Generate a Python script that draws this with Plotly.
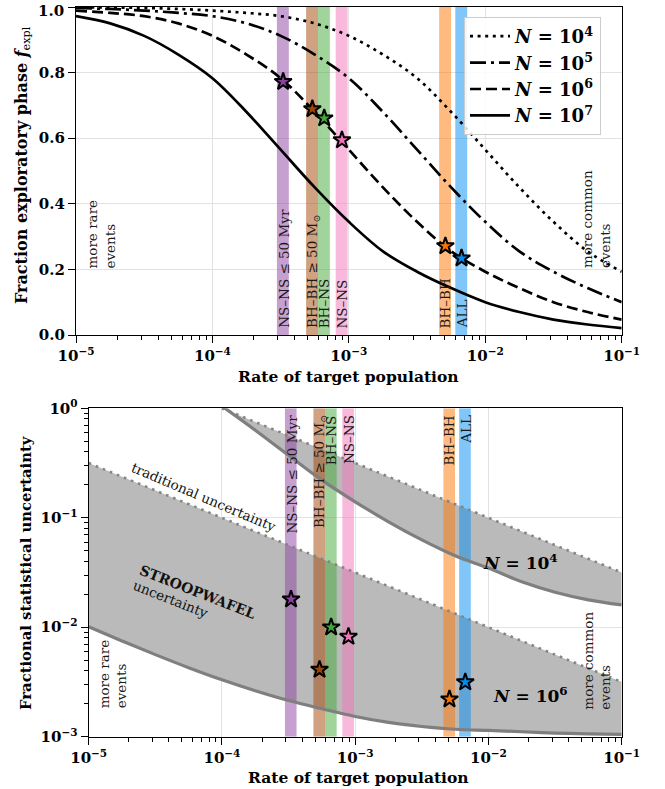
import numpy as np
import plotly.graph_objects as go

# ------------------------------------------------------------------ data
# top panel: fraction of exploratory phase vs rate
log_rate_top = [-5.0, -4.75, -4.5, -4.25, -4.0, -3.75, -3.5, -3.25, -3.0,
                -2.75, -2.5, -2.25, -2.0, -1.75, -1.5, -1.25, -1.0]
f_expl_N1e4 = [0.9992, 0.9985, 0.997, 0.994, 0.989, 0.982, 0.972, 0.950, 0.912,
               0.855, 0.783, 0.680, 0.565, 0.450, 0.345, 0.255, 0.193]
f_expl_N1e5 = [0.997, 0.994, 0.989, 0.982, 0.972, 0.950, 0.912, 0.855, 0.783,
               0.680, 0.565, 0.450, 0.345, 0.255, 0.193, 0.143, 0.100]
f_expl_N1e6 = [0.989, 0.982, 0.972, 0.950, 0.912, 0.855, 0.783, 0.680, 0.565,
               0.450, 0.345, 0.255, 0.193, 0.143, 0.100, 0.070, 0.047]
f_expl_N1e7 = [0.972, 0.950, 0.912, 0.855, 0.783, 0.680, 0.565, 0.450, 0.345,
               0.255, 0.193, 0.143, 0.100, 0.070, 0.047, 0.032, 0.021]

# bottom panel: fractional statistical uncertainty
log_rate_trad_N1e4 = [-4.0, -3.5, -3.0, -2.5, -2.0, -1.5, -1.0]
trad_unc_N1e4 = [1.0, 0.562, 0.316, 0.178, 0.100, 0.0562, 0.0316]
log_rate_sw_N1e4 = [-4.0, -3.75, -3.5, -3.25, -3.0, -2.75, -2.5, -2.25, -2.0,
                    -1.75, -1.5, -1.25, -1.0]
sw_unc_N1e4 = [1.047, 0.631, 0.372, 0.221, 0.140, 0.0918, 0.0628, 0.0450, 0.0347,
               0.0260, 0.0209, 0.0178, 0.0160]
log_rate_trad_N1e6 = [-5.0, -4.5, -4.0, -3.5, -3.0, -2.5, -2.0, -1.5, -1.0]
trad_unc_N1e6 = [0.316, 0.178, 0.100, 0.0562, 0.0316, 0.0178, 0.0100, 0.00562, 0.00316]
log_rate_sw_N1e6 = log_rate_top
sw_unc_N1e6 = [0.0101, 0.0075, 0.00562, 0.00427, 0.00331, 0.00263, 0.00214, 0.0018,
               0.00153, 0.00135, 0.00124, 0.00117, 0.00114, 0.00111, 0.00108,
               0.00106, 0.00105]

# target populations
pop_names = ["NS–NS ≤ 50 Myr", "BH–BH ≥ 50 M<sub>⊙</sub>", "BH–NS", "NS–NS",
             "BH–BH", "ALL"]
pop_rates = [3.3e-4, 5.4e-4, 6.6e-4, 8.9e-4, 5.1e-3, 6.7e-3]
pop_fexpl = [0.772, 0.689, 0.661, 0.594, 0.271, 0.234]
pop_unc = [0.018, 0.0041, 0.010, 0.0082, 0.0022, 0.00315]
pop_rgb = [(141, 65, 161), (161, 69, 5), (65, 169, 55), (241, 115, 185),
           (253, 117, 0), (1, 141, 241)]

x_tick_exp = [-5, -4, -3, -2, -1]
y2_tick_exp = [-3, -2, -1, 0]
y1_ticks = [0.0, 0.2, 0.4, 0.6, 0.8, 1.0]

# ------------------------------------------------------------------ style
FONT = "DejaVu Serif"
W, H = 665, 789
top_x = [76 / W, 621.7 / W]
top_y = [1 - 335 / H, 1 - 7 / H]
bot_x = [88.7 / W, 621.7 / W]
bot_y = [1 - 736.7 / H, 1 - 408.3 / H]
GRID = "#e2e2e2"
LW = 2.7

fig = go.Figure()


def rgba(c, a):
    return f"rgba({c[0]},{c[1]},{c[2]},{a})"


def xs(logs):
    return [10 ** v for v in logs]


# ---------------- top panel
for r, c in zip(pop_rates, pop_rgb):
    fig.add_trace(go.Scatter(x=[r * 0.9, r * 1.1, r * 1.1, r * 0.9, r * 0.9],
                             y=[0, 0, 1, 1, 0], fill="toself", mode="lines",
                             line=dict(width=0), fillcolor=rgba(c, 0.5),
                             showlegend=False, hoverinfo="skip",
                             xaxis="x", yaxis="y"))

curves = [
    (f_expl_N1e4, "3px,4.6px", "4"),
    (f_expl_N1e5, "16px,5px,3px,5px", "5"),
    (f_expl_N1e6, "11px,5px", "6"),
    (f_expl_N1e7, "solid", "7"),
]
for vals, dash, ex in curves:
    fig.add_trace(go.Scatter(x=xs(log_rate_top), y=vals, mode="lines",
                             line=dict(color="black", width=LW, dash=dash,
                                       shape="spline"),
                             name=f"<b><i>N</i> = 10<sup>{ex}</sup></b>",
                             xaxis="x", yaxis="y"))

fig.add_trace(go.Scatter(x=pop_rates, y=pop_fexpl, mode="markers",
                         marker=dict(symbol="star", size=13,
                                     color=[rgba(c, 1) for c in pop_rgb],
                                     line=dict(color="black", width=2)),
                         showlegend=False, xaxis="x", yaxis="y"))

# ---------------- bottom panel
GREY_FILL = "#bababa"
for lt, tv, ls, sv in [(log_rate_trad_N1e4, trad_unc_N1e4, log_rate_sw_N1e4, sw_unc_N1e4),
                       (log_rate_trad_N1e6, trad_unc_N1e6, log_rate_sw_N1e6, sw_unc_N1e6)]:
    px_ = xs(lt) + xs(ls)[::-1]
    py_ = list(tv) + list(sv)[::-1]
    fig.add_trace(go.Scatter(x=px_, y=py_, fill="toself", mode="lines",
                             line=dict(width=0), fillcolor=GREY_FILL,
                             showlegend=False, hoverinfo="skip",
                             xaxis="x2", yaxis="y2"))

for r, c in zip(pop_rates, pop_rgb):
    fig.add_trace(go.Scatter(x=[r * 0.9, r * 1.1, r * 1.1, r * 0.9, r * 0.9],
                             y=[1e-3, 1e-3, 1, 1, 1e-3], fill="toself", mode="lines",
                             line=dict(width=0), fillcolor=rgba(c, 0.5),
                             showlegend=False, hoverinfo="skip",
                             xaxis="x2", yaxis="y2"))

for lt, tv in [(log_rate_trad_N1e4, trad_unc_N1e4), (log_rate_trad_N1e6, trad_unc_N1e6)]:
    fig.add_trace(go.Scatter(x=xs(lt), y=tv, mode="lines",
                             line=dict(color="#858585", width=2.6, dash="2.6px,5px"),
                             showlegend=False, xaxis="x2", yaxis="y2"))
for ls, sv in [(log_rate_sw_N1e4, sw_unc_N1e4), (log_rate_sw_N1e6, sw_unc_N1e6)]:
    fig.add_trace(go.Scatter(x=xs(ls), y=sv, mode="lines",
                             line=dict(color="#7f7f7f", width=3.2, shape="spline"),
                             showlegend=False, xaxis="x2", yaxis="y2"))

fig.add_trace(go.Scatter(x=pop_rates, y=pop_unc, mode="markers",
                         marker=dict(symbol="star", size=13,
                                     color=[rgba(c, 1) for c in pop_rgb],
                                     line=dict(color="black", width=2)),
                         showlegend=False, xaxis="x2", yaxis="y2"))

# ---------------- axes
def exp_label(e):
    return f"<b>10<sup>{str(e).replace('-', '−')}</sup></b>"


tickfont = dict(family=FONT, size=15, color="black")
common = dict(showline=True, linecolor="black", linewidth=1.2, mirror=True,
              ticks="outside", ticklen=7, tickwidth=1.1, tickcolor="black",
              showgrid=True, gridcolor=GRID, gridwidth=1, zeroline=False,
              tickfont=tickfont, ticklabeloverflow="allow")
minor_x = [k * 10.0 ** e for e in range(-5, -1) for k in range(2, 10)]
minor_y2 = [k * 10.0 ** e for e in range(-3, 0) for k in range(2, 10)]

# the top "1.0" label is drawn as an annotation slightly below its tick
y1_text = [f"<b>{v:.1f}</b>" if v < 1 else "" for v in y1_ticks]

fig.update_layout(
    xaxis=dict(type="log", domain=top_x, anchor="y", range=[-5, -1],
               tickvals=[10.0 ** e for e in x_tick_exp],
               ticktext=[exp_label(e) for e in x_tick_exp],
               minor=dict(tickvals=minor_x, ticks="outside", ticklen=4,
                          tickwidth=1, tickcolor="black", showgrid=False),
               **common),
    yaxis=dict(domain=top_y, anchor="x", range=[0, 1],
               tickvals=y1_ticks, ticktext=y1_text, **common),
    xaxis2=dict(type="log", domain=bot_x, anchor="y2", range=[-5, -1],
                tickvals=[10.0 ** e for e in x_tick_exp],
                ticktext=[exp_label(e) for e in x_tick_exp],
                minor=dict(tickvals=minor_x, ticks="outside", ticklen=4,
                           tickwidth=1, tickcolor="black", showgrid=False),
                **common),
    yaxis2=dict(type="log", domain=bot_y, anchor="x2", range=[-3, 0],
                tickvals=[10.0 ** e for e in y2_tick_exp],
                ticktext=[exp_label(e) for e in y2_tick_exp],
                minor=dict(tickvals=minor_y2, ticks="outside", ticklen=4,
                           tickwidth=1, tickcolor="black", showgrid=False),
                **common),
)

# ---------------- annotations
ann = []
lab_font = dict(family=FONT, size=13.5, color="#1a1a1a")
for name, r in zip(pop_names, pop_rates):
    ann.append(dict(x=np.log10(r), y=0.015, xref="x", yref="y", text=name,
                    textangle=-90, showarrow=False, xanchor="center",
                    yanchor="bottom", font=lab_font))
    ann.append(dict(x=np.log10(r), y=-0.043, xref="x2", yref="y2", text=name,
                    textangle=-90, showarrow=False, xanchor="center",
                    yanchor="top", font=lab_font))

side_font = dict(family=FONT, size=13.5, color="#1a1a1a")
C = dict(xanchor="center", yanchor="middle", showarrow=False)
ann += [
    dict(x=66 / W, y=1 - 11 / H, xref="paper", yref="paper",
         text=f"<b>{y1_ticks[-1]:.1f}</b>", xanchor="right", yanchor="middle",
         showarrow=False, font=tickfont),
    dict(x=-4.817, y=0.198, xref="x", yref="y", text="more rare<br>events",
         textangle=-90, align="left", showarrow=False, xanchor="center",
         yanchor="bottom", font=side_font),
    dict(x=-1.188, y=0.198, xref="x", yref="y", text="more common<br>events",
         textangle=-90, align="left", showarrow=False, xanchor="center",
         yanchor="bottom", font=side_font),
    dict(x=-4.818, y=-2.755, xref="x2", yref="y2", text="more rare<br>events",
         textangle=-90, align="left", showarrow=False, xanchor="center",
         yanchor="bottom", font=side_font),
    dict(x=-1.187, y=-2.773, xref="x2", yref="y2", text="more common<br>events",
         textangle=-90, align="left", showarrow=False, xanchor="center",
         yanchor="bottom", font=side_font),
    dict(x=-4.135, y=-0.81, xref="x2", yref="y2", text="traditional uncertainty",
         textangle=23, font=dict(family=FONT, size=13.5, color="#111"), **C),
    dict(x=-4.18, y=-1.676, xref="x2", yref="y2", text="<b>STROOPWAFEL</b>",
         textangle=21.5, font=dict(family=FONT, size=14, color="#111"), **C),
    dict(x=-4.383, y=-1.741, xref="x2", yref="y2", text="uncertainty",
         textangle=21.5, font=dict(family=FONT, size=13.5, color="#111"), **C),
    dict(x=-1.757, y=-1.404, xref="x2", yref="y2",
         text="<b><i>N</i> = 10<sup>4</sup></b>",
         font=dict(family=FONT, size=17, color="black"), **C),
    dict(x=-1.682, y=-2.618, xref="x2", yref="y2",
         text="<b><i>N</i> = 10<sup>6</sup></b>",
         font=dict(family=FONT, size=17, color="black"), **C),
    # axis titles
    dict(x=348 / W, y=1 - 376 / H, xref="paper", yref="paper",
         text="<b>Rate of target population</b>",
         font=dict(family=FONT, size=15.5, color="black"), **C),
    dict(x=358 / W, y=1 - 777 / H, xref="paper", yref="paper",
         text="<b>Rate of target population</b>",
         font=dict(family=FONT, size=15.5, color="black"), **C),
    dict(x=22 / W, y=1 - 165 / H, xref="paper", yref="paper",
         text="<b>Fraction exploratory phase </b><b><i>f</i></b><sub>expl</sub>",
         textangle=-90, font=dict(family=FONT, size=16, color="black"), **C),
    dict(x=25 / W, y=1 - 573 / H, xref="paper", yref="paper",
         text="<b>Fractional statistical uncertainty</b>",
         textangle=-90, font=dict(family=FONT, size=14.8, color="black"), **C),
]

fig.update_layout(
    width=W, height=H,
    margin=dict(l=0, r=0, t=0, b=0, pad=0, autoexpand=False),
    paper_bgcolor="white", plot_bgcolor="white",
    font=dict(family=FONT, color="black"),
    annotations=ann,
    legend=dict(x=601 / W, y=1 - 17 / H, xanchor="right", yanchor="top",
                bgcolor="rgba(255,255,255,0.85)", bordercolor="#cccccc",
                borderwidth=1, font=dict(family=FONT, size=18, color="black"),
                itemwidth=40, tracegroupgap=0),
)

fig.write_html("out.html", config={"displayModeBar": False},
               post_script="document.body.style.margin='0';"
                           "document.body.style.overflow='hidden';")
